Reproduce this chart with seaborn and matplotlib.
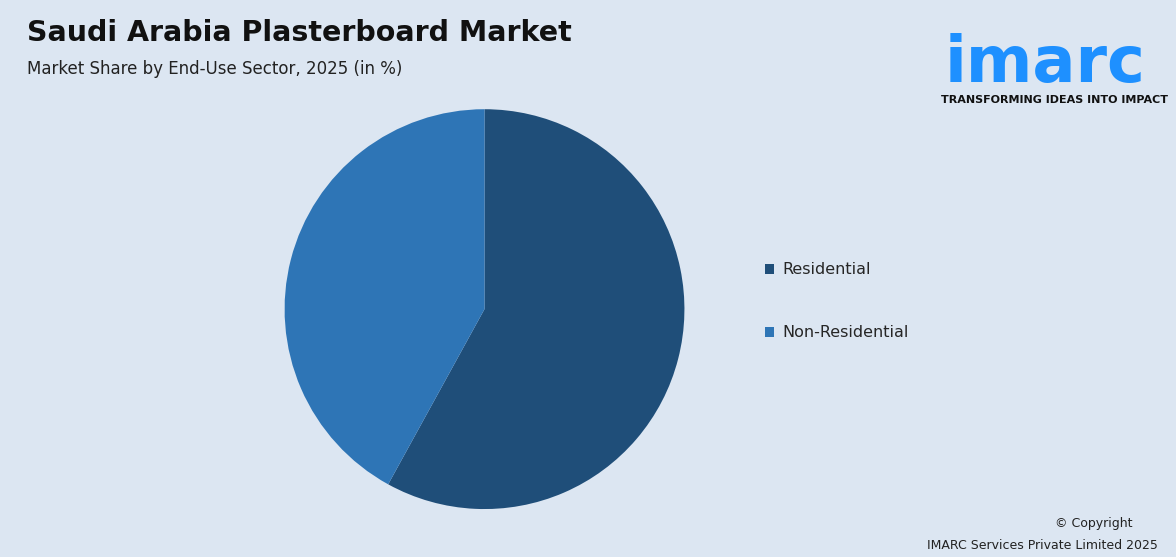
import matplotlib
matplotlib.use("Agg")
import matplotlib.pyplot as plt
import seaborn as sns
from matplotlib.patches import Patch

sns.set_theme(style="white")
plt.rcParams['font.family'] = ['DejaVu Sans']

# data
sectors = ["Residential", "Non-Residential"]
shares = [58, 42]
colors = ["#1f4e79", "#2e75b6"]
bg = "#dce6f2"

fig = plt.figure(figsize=(11.76, 5.57), dpi=100)
fig.patch.set_facecolor(bg)

ax = fig.add_axes([0.242, 0.086, 0.340, 0.718])
ax.set_facecolor(bg)
ax.pie(shares, colors=colors, startangle=90, counterclock=False,
       wedgeprops=dict(linewidth=0))
ax.set_xlim(-1, 1)
ax.set_ylim(-1, 1)
ax.set_aspect("equal")
ax.axis("off")

# titles
fig.text(0.023, 0.94, "Saudi Arabia Plasterboard Market", fontsize=20.5,
         fontweight="bold", color="#111111", va="center")
fig.text(0.023, 0.877, "Market Share by End-Use Sector, 2025 (in %)",
         fontsize=12, color="#222222", va="center")

# legend
handles = [Patch(facecolor=c, edgecolor="none", label=s) for s, c in zip(sectors, colors)]
fig.legend(handles=handles, loc="center left", bbox_to_anchor=(0.638, 0.459),
           frameon=False, fontsize=11.5, handlelength=0.6, handleheight=0.6,
           handletextpad=0.5, labelspacing=3.0)

# logo
fig.text(0.803, 0.885, "imarc", fontsize=46, fontweight="bold",
         color="#1e90ff", va="center", ha="left")
fig.text(0.993, 0.82, "TRANSFORMING IDEAS INTO IMPACT", fontsize=8,
         fontweight="bold", color="#111111", ha="right", va="center")

# footer
fig.text(0.93, 0.053, "© Copyright", fontsize=9, color="#222222", ha="center")
fig.text(0.985, 0.015, "IMARC Services Private Limited 2025", fontsize=9,
         color="#222222", ha="right")

fig.savefig("out.png", dpi=100, facecolor=bg)
